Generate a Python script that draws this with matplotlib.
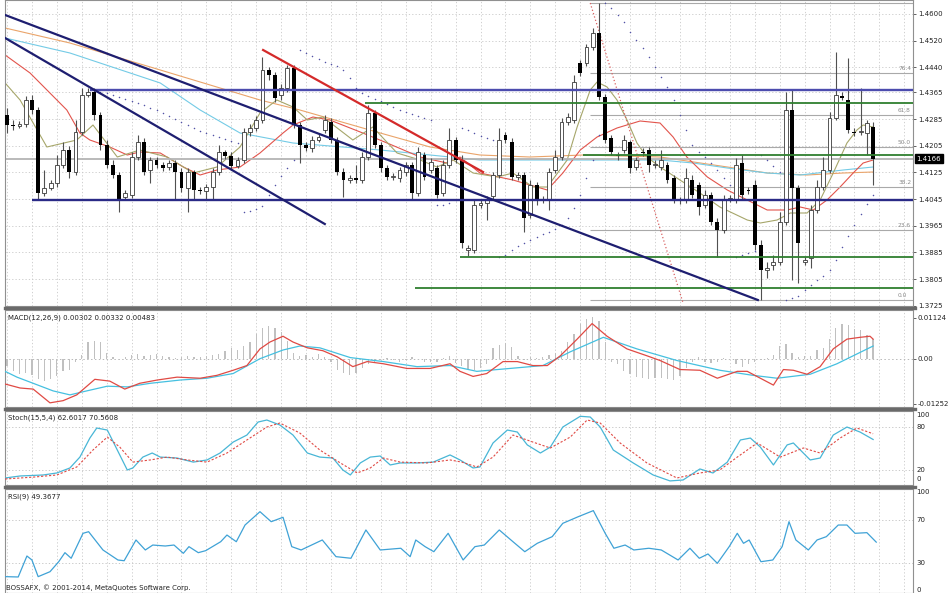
import numpy as np
import matplotlib
matplotlib.use("Agg")
import matplotlib.pyplot as plt
from matplotlib.transforms import blended_transform_factory

W, H = 948, 593

# ---- daily bars ----
opens = [1.4297, 1.4267, 1.4264, 1.4270, 1.4342, 1.4312, 1.4063, 1.4078, 1.4093, 1.4147,
         1.4192, 1.4126, 1.4246, 1.4357, 1.4366, 1.4297, 1.4207, 1.4147, 1.4117, 1.4051,
         1.4057, 1.4171, 1.4216, 1.4132, 1.4162, 1.4147, 1.4141, 1.4153, 1.4126, 1.4078,
         1.4126, 1.4072, 1.4069, 1.4081, 1.4126, 1.4186, 1.4174, 1.4144, 1.4162, 1.4246,
         1.4258, 1.4282, 1.4432, 1.4417, 1.4357, 1.4378, 1.4438, 1.4267, 1.4207, 1.4198,
         1.4222, 1.4252, 1.4276, 1.4222, 1.4126, 1.4102, 1.4108, 1.4102, 1.4171, 1.4303,
         1.4207, 1.4138, 1.4111, 1.4108, 1.4126, 1.4147, 1.4063, 1.4177, 1.4132, 1.4138,
         1.4063, 1.4147, 1.4222, 1.4162, 1.3892, 1.3892, 1.4027, 1.4033, 1.4054, 1.4117,
         1.4237, 1.4216, 1.4111, 1.4117, 1.3997, 1.4087, 1.4042, 1.4045, 1.4132, 1.4171,
         1.4276, 1.4282, 1.4453, 1.4453, 1.4501, 1.4543, 1.4351, 1.4228, 1.4177, 1.4192,
         1.4216, 1.4141, 1.4186, 1.4192, 1.4147, 1.4141, 1.4147, 1.4108, 1.4042, 1.4042,
         1.4102, 1.4087, 1.4027, 1.4057, 1.3976, 1.3952, 1.4042, 1.4042, 1.4153, 1.4072,
         1.4087, 1.3907, 1.3832, 1.3847, 1.3856, 1.3976, 1.4312, 1.4078, 1.3856, 1.3868,
         1.4012, 1.4081, 1.4132, 1.4288, 1.4354, 1.4342, 1.4246, 1.4246, 1.4243, 1.4261]
closes = [1.4267, 1.4264, 1.4270, 1.4342, 1.4312, 1.4063, 1.4078, 1.4093, 1.4147, 1.4192,
          1.4126, 1.4246, 1.4357, 1.4366, 1.4297, 1.4207, 1.4147, 1.4117, 1.4042, 1.4063,
          1.4171, 1.4216, 1.4126, 1.4162, 1.4147, 1.4138, 1.4153, 1.4126, 1.4078, 1.4126,
          1.4072, 1.4069, 1.4081, 1.4126, 1.4186, 1.4174, 1.4144, 1.4162, 1.4246, 1.4258,
          1.4282, 1.4432, 1.4417, 1.4348, 1.4378, 1.4438, 1.4267, 1.4207, 1.4198, 1.4222,
          1.4231, 1.4282, 1.4222, 1.4126, 1.4102, 1.4108, 1.4102, 1.4171, 1.4303, 1.4207,
          1.4138, 1.4111, 1.4114, 1.4132, 1.4147, 1.4063, 1.4186, 1.4111, 1.4156, 1.4057,
          1.4147, 1.4222, 1.4162, 1.3913, 1.3898, 1.4027, 1.4033, 1.4045, 1.4117, 1.4222,
          1.4222, 1.4111, 1.4117, 1.3988, 1.4087, 1.4042, 1.4045, 1.4126, 1.4171, 1.4276,
          1.4291, 1.4396, 1.4423, 1.4501, 1.4543, 1.4351, 1.4222, 1.4186, 1.4174, 1.4222,
          1.4138, 1.4162, 1.4183, 1.4147, 1.4150, 1.4162, 1.4102, 1.4042, 1.4039, 1.4108,
          1.4057, 1.4021, 1.4057, 1.3976, 1.3952, 1.4042, 1.4048, 1.4147, 1.4057, 1.4069,
          1.3907, 1.3832, 1.3838, 1.3856, 1.3976, 1.4312, 1.4078, 1.3913, 1.3862, 1.4012,
          1.4081, 1.4132, 1.4288, 1.4357, 1.4348, 1.4252, 1.4243, 1.4249, 1.4273, 1.4166]
highs = [1.4318, 1.4282, 1.4279, 1.4354, 1.4357, 1.4321, 1.4132, 1.4102, 1.4177, 1.4216,
         1.4204, 1.4282, 1.4378, 1.4378, 1.4378, 1.4306, 1.4222, 1.4162, 1.4126, 1.4072,
         1.4186, 1.4237, 1.4228, 1.4171, 1.4171, 1.4156, 1.4162, 1.4162, 1.4138, 1.4138,
         1.4132, 1.4081, 1.4090, 1.4138, 1.4207, 1.4192, 1.4186, 1.4171, 1.4258, 1.4270,
         1.4294, 1.4471, 1.4441, 1.4426, 1.4390, 1.4447, 1.4447, 1.4276, 1.4216, 1.4234,
         1.4243, 1.4297, 1.4288, 1.4231, 1.4138, 1.4117, 1.4147, 1.4186, 1.4327, 1.4312,
         1.4216, 1.4147, 1.4123, 1.4141, 1.4156, 1.4156, 1.4201, 1.4186, 1.4168, 1.4147,
         1.4162, 1.4258, 1.4231, 1.4177, 1.3907, 1.4042, 1.4042, 1.4054, 1.4126, 1.4258,
         1.4246, 1.4228, 1.4126, 1.4126, 1.4102, 1.4096, 1.4054, 1.4138, 1.4192, 1.4288,
         1.4303, 1.4417, 1.4462, 1.4510, 1.4558, 1.4633, 1.4360, 1.4237, 1.4186, 1.4237,
         1.4222, 1.4171, 1.4198, 1.4201, 1.4162, 1.4192, 1.4156, 1.4117, 1.4051, 1.4138,
         1.4117, 1.4096, 1.4072, 1.4066, 1.3988, 1.4057, 1.4057, 1.4168, 1.4177, 1.4081,
         1.4102, 1.3922, 1.3856, 1.3877, 1.4006, 1.4366, 1.4372, 1.4087, 1.3871, 1.4027,
         1.4102, 1.4171, 1.4306, 1.4486, 1.4366, 1.4468, 1.4258, 1.4378, 1.4282, 1.4276]
lows = [1.4243, 1.4252, 1.4258, 1.4261, 1.4300, 1.4042, 1.4054, 1.4072, 1.4081, 1.4138,
        1.4108, 1.4117, 1.4237, 1.4351, 1.4282, 1.4192, 1.4138, 1.4108, 1.4006, 1.4042,
        1.4048, 1.4162, 1.4117, 1.4093, 1.4138, 1.4129, 1.4132, 1.4042, 1.4066, 1.4006,
        1.4042, 1.4060, 1.4042, 1.4042, 1.4117, 1.4165, 1.4132, 1.4138, 1.4153, 1.4234,
        1.4249, 1.4273, 1.4402, 1.4336, 1.4342, 1.4366, 1.4258, 1.4153, 1.4189, 1.4186,
        1.4216, 1.4243, 1.4213, 1.4117, 1.4051, 1.4093, 1.4093, 1.4093, 1.4162, 1.4198,
        1.4126, 1.4102, 1.4102, 1.4096, 1.4114, 1.4042, 1.4054, 1.4102, 1.4123, 1.4048,
        1.4054, 1.4138, 1.4153, 1.3898, 1.3874, 1.3883, 1.4018, 1.3982, 1.4042, 1.4108,
        1.4213, 1.4102, 1.4102, 1.3946, 1.3988, 1.4027, 1.4033, 1.4012, 1.4123, 1.4162,
        1.4267, 1.4273, 1.4414, 1.4444, 1.4492, 1.4342, 1.4213, 1.4177, 1.4162, 1.4183,
        1.4123, 1.4132, 1.4174, 1.4126, 1.4138, 1.4132, 1.4093, 1.4033, 1.4030, 1.4033,
        1.4048, 1.3997, 1.4018, 1.3967, 1.3871, 1.3943, 1.4036, 1.4033, 1.4042, 1.4060,
        1.3892, 1.3742, 1.3808, 1.3832, 1.3847, 1.3967, 1.3802, 1.3793, 1.3847, 1.3838,
        1.4003, 1.4072, 1.4123, 1.4282, 1.4342, 1.4243, 1.4234, 1.4237, 1.4177, 1.4087]

# parabolic SAR, one dot per bar (none drawn for the first 14 bars)
sar = [np.nan] * 14 + [
    1.4372, 1.4366, 1.4363, 1.4357, 1.4351, 1.4345, 1.4339, 1.4333, 1.4327, 1.4318, 1.4312, 1.4303,
    1.4294, 1.4285, 1.4276, 1.4267, 1.4258, 1.4249, 1.4243, 1.4237, 1.4231, 1.4225, 1.4219, 1.4213,
    1.4006, 1.4009, 1.4015, 1.4024, 1.4057, 1.4087, 1.4114, 1.4138, 1.4162,
    1.4492, 1.4483, 1.4474, 1.4465, 1.4456, 1.4450, 1.4444, 1.4432, 1.4408, 1.4378, 1.4363,
    1.4354, 1.4345, 1.4339, 1.4330, 1.4321, 1.4312, 1.4306, 1.4300, 1.4294, 1.4288, 1.4282,
    1.4027, 1.4027, 1.4033, 1.4042,
    1.4258, 1.4252, 1.4243, 1.4234, 1.4228, 1.4222,
    1.3871, 1.3877, 1.3892, 1.3904, 1.3913, 1.3922, 1.3931, 1.3940, 1.3946, 1.3955, 1.3967,
    1.3988, 1.4018, 1.4057, 1.4108, 1.4162, 1.4237,
    1.4633, 1.4618, 1.4597, 1.4576, 1.4546, 1.4522, 1.4498, 1.4471, 1.4441, 1.4411, 1.4381,
    1.4342, 1.4297, 1.4252, 1.4207, 1.4186, 1.4171, 1.4153, 1.4132, 1.4108, 1.4087,
    1.3871, 1.3877, 1.3883, 1.3889,
    1.4177, 1.4162, 1.4144, 1.4126,
    1.3742, 1.3748, 1.3754, 1.3772, 1.3787, 1.3802, 1.3814, 1.3832, 1.3862, 1.3901, 1.3934,
    1.3967, 1.4000, 1.4030, 1.4057]

# moving averages, sampled along the curves (bar index, price)
ma_orange_x = [-0.3, 10.1, 23.0, 40.6, 47.0, 59.9, 67.9, 75.9, 83.9, 92.5, 104.8, 115.6, 122.0, 128.4, 134.2, 139.0]
ma_orange = [1.4558, 1.4513, 1.4441, 1.4342, 1.4312, 1.4243, 1.4201, 1.4177, 1.4171, 1.4177,
             1.4171, 1.4141, 1.4123, 1.4117, 1.4123, 1.4126]
ma_cyan_x = [-0.3, 10.1, 24.6, 31.0, 37.4, 45.9, 59.9, 67.9, 75.9, 92.0, 104.8, 110.1, 115.6, 122.0, 127.3, 134.2, 139.0]
ma_cyan = [1.4528, 1.4483, 1.4393, 1.4312, 1.4243, 1.4213, 1.4192, 1.4177, 1.4162, 1.4162,
           1.4162, 1.4153, 1.4138, 1.4123, 1.4117, 1.4132, 1.4141]
ma_red_x = [-0.3, 3.7, 9.6, 11.7, 13.3, 16.5, 19.3, 21.3, 24.6, 28.3, 31.0, 33.7, 37.4, 40.6, 44.3,
            45.9, 49.1, 51.8, 57.1, 61.0, 66.3, 70.6, 72.7, 75.9, 81.2, 86.7, 89.2, 92.0, 94.7,
            97.9, 101.6, 104.8, 106.9, 109.1, 112.4, 115.6, 118.8, 122.0, 125.2, 127.3, 129.4,
            131.6, 133.7, 135.8, 137.4, 139.0]
ma_red = [1.4477, 1.4423, 1.4312, 1.4243, 1.4222, 1.4201, 1.4177, 1.4186, 1.4183, 1.4141, 1.4117,
          1.4132, 1.4141, 1.4183, 1.4243, 1.4267, 1.4291, 1.4282, 1.4243, 1.4213, 1.4171, 1.4153,
          1.4171, 1.4123, 1.4102, 1.4072, 1.4123, 1.4192, 1.4231, 1.4258, 1.4279, 1.4273, 1.4231,
          1.4171, 1.4111, 1.4072, 1.4042, 1.4012, 1.4012, 1.4021, 1.4012, 1.4042, 1.4081, 1.4123,
          1.4153, 1.4162]
ma_olive_x = [-0.3, 2.1, 6.4, 11.2, 13.8, 17.7, 21.3, 25.7, 29.9, 33.7, 37.4, 40.6, 43.3, 45.9,
              48.2, 50.7, 55.5, 58.7, 62.6, 66.3, 69.0, 71.6, 74.8, 78.7, 81.2, 84.4, 86.7, 89.9,
              91.5, 93.6, 94.7, 96.3, 97.9, 99.5, 101.1, 102.7, 104.8, 108.0, 111.2, 114.4, 118.8,
              120.9, 123.6, 125.7, 128.4, 130.5, 132.6, 134.8, 136.4, 137.4, 139.0]
ma_olive = [1.4393, 1.4342, 1.4201, 1.4222, 1.4267, 1.4171, 1.4192, 1.4171, 1.4123, 1.4141, 1.4201,
            1.4303, 1.4342, 1.4321, 1.4282, 1.4291, 1.4222, 1.4261, 1.4183, 1.4162, 1.4141, 1.4162,
            1.4123, 1.4111, 1.4123, 1.4081, 1.4081, 1.4162, 1.4261, 1.4372, 1.4396, 1.4381, 1.4342,
            1.4282, 1.4213, 1.4171, 1.4141, 1.4102, 1.4063, 1.4021, 1.3982, 1.3973, 1.3982, 1.4003,
            1.4003, 1.4042, 1.4123, 1.4213, 1.4252, 1.4267, 1.4261]

# drawn objects: horizontal levels (price, first bar), trendlines, fibo retracement
blue_levels = [(1.4372, 13.3), (1.4042, 4.0)]
green_levels = [(1.4333, 57.5), (1.4177, 92.5), (1.3871, 72.7), (1.3778, 65.5)]
navy_trends = [((-0.3, 1.4597), (120.5, 1.3742)), ((-0.3, 1.4528), (51.0, 1.3970))]
red_trend = ((41.1, 1.4492), (76.4, 1.4126))
fibo_line = ((93.6, 1.4633), (108.5, 1.3733))
fibo_start = 93.6
fibo_prices = [1.4633, 1.4423, 1.4297, 1.4201, 1.4081, 1.3952, 1.3742]
fibo_labels = ['', '76.4', '61.8', '50.0', '38.2', '23.6', '0.0']
last_price = 1.4166
price_ticks = [1.4600, 1.4520, 1.4440, 1.4365, 1.4285, 1.4205, 1.4125, 1.4045, 1.3965, 1.3885, 1.3805, 1.3725]

# MACD (12,26,9)
macd_hist = [-0.002, -0.0035, -0.0043, -0.004, -0.0045, -0.0057, -0.0062, -0.0055, -0.0048, -0.0035,
             -0.003, -0.001, 0.001, 0.0045, 0.005, 0.0045, 0.0015, 0.0005, -0.0005, 0.0005,
             0.001, 0.0012, 0.0008, 0.001, 0.0012, 0.0008, 0.0005, 0.0003, 0.0005, 0.0008,
             0.0006, 0.0005, 0.0008, 0.001, 0.0012, 0.002, 0.003, 0.0025, 0.0035, 0.0045,
             0.0068, 0.0086, 0.009, 0.0086, 0.0075, 0.005, 0.0016, 0.0008, 0.001, 0.0005,
             0.0012, 0.0005, -0.001, -0.003, -0.004, -0.0045, -0.004, -0.0025, -0.0015, -0.0008,
             -0.0005, 0.0003, -0.0005, -0.0008, -0.0005, 0.0005, -0.0003, -0.0008, -0.001, -0.0008,
             0.0003, 0.0008, -0.0012, -0.002, -0.0028, -0.003, -0.0025, -0.0015, 0.003, 0.0038,
             0.0042, 0.0032, 0.0008, -0.0005, 0.0005, 0.0003, 0.0005, 0.001, 0.0015, 0.002,
             0.0045, 0.0068, 0.0095, 0.011, 0.0116, 0.0105, 0.0045, -0.0008, -0.0015, -0.0035,
             -0.0042, -0.005, -0.0054, -0.0057, -0.0054, -0.0054, -0.0057, -0.006, -0.0049, -0.0025,
             -0.0008, 0.0005, -0.0008, -0.0012, -0.0008, 0.0003, -0.0005, -0.0015, -0.0022, -0.0015,
             -0.0008, -0.0005, 0.0003, 0.001, 0.0035, 0.004, 0.0015, 0.0005, 0.0008, 0.0008,
             0.0025, 0.003, 0.0055, 0.0086, 0.0095, 0.0092, 0.0082, 0.0078, 0.0065, 0.0055]
macd_main_x = [-0.3, 2.1, 4.2, 6.9, 9.0, 11.2, 14.1, 16.5, 18.9, 21.3, 24.1, 27.3, 31.0, 33.7, 36.3,
               38.5, 40.6, 42.2, 44.3, 45.9, 48.2, 50.7, 53.0, 55.5, 57.8, 60.4, 64.2, 67.9, 71.1,
               72.7, 74.8, 77.0, 79.6, 81.9, 84.4, 86.7, 88.8, 91.5, 93.9, 96.3, 99.5, 102.7, 104.8,
               108.0, 111.2, 114.0, 117.2, 118.8, 120.9, 123.0, 124.6, 126.2, 128.4, 130.5, 132.6,
               134.8, 136.9, 138.5, 139.0]
macd_main = [-0.0070, -0.0081, -0.0084, -0.0122, -0.0116, -0.0100, -0.0057, -0.0062, -0.0084, -0.0068,
             -0.0059, -0.0051, -0.0054, -0.0046, -0.0032, -0.0019, 0.0027, 0.0046, 0.0062, 0.0046,
             0.0030, 0.0022, 0.0005, -0.0022, -0.0008, -0.0014, -0.0027, -0.0027, -0.0014, -0.0035,
             -0.0049, -0.0041, -0.0008, -0.0008, -0.0019, -0.0019, 0.0008, 0.0054, 0.0097, 0.0062,
             0.0027, 0.0008, -0.0005, -0.0030, -0.0032, -0.0054, -0.0035, -0.0035, -0.0054, -0.0073,
             -0.0030, -0.0032, -0.0043, -0.0022, 0.0027, 0.0054, 0.0059, 0.0062, 0.0054]
macd_signal_x = [-0.3, 1.6, 4.2, 7.4, 10.1, 12.8, 16.1, 19.3, 23.0, 27.8, 32.1, 36.3, 40.6, 44.3, 47.0,
                 50.2, 55.1, 60.4, 65.8, 71.1, 75.4, 80.7, 86.0, 90.4, 95.7, 101.1, 107.5, 114.4,
                 119.7, 123.6, 128.9, 133.2, 139.0]
macd_signal = [-0.0035, -0.0051, -0.0068, -0.0089, -0.0100, -0.0089, -0.0076, -0.0078, -0.0068, -0.0059,
               -0.0054, -0.0041, 0.0000, 0.0024, 0.0035, 0.0030, 0.0003, -0.0008, -0.0022, -0.0019,
               -0.0035, -0.0027, -0.0019, 0.0019, 0.0059, 0.0027, -0.0005, -0.0032, -0.0046, -0.0054,
               -0.0043, -0.0014, 0.0035]

# Stochastic (15,5,4)
stoch_k_x = [-0.3, 2.1, 5.8, 8.0, 10.1, 11.7, 13.3, 14.4, 16.1, 17.7, 19.3, 20.2, 21.8, 23.3, 24.6,
             27.3, 29.9, 32.1, 34.2, 36.3, 38.5, 40.3, 41.7, 43.8, 45.9, 48.2, 50.2, 52.3, 53.9,
             55.1, 56.7, 58.3, 59.9, 61.5, 63.1, 65.8, 68.4, 71.1, 72.7, 74.8, 75.9, 78.0, 80.3,
             81.9, 83.5, 85.6, 87.2, 89.2, 92.0, 93.6, 95.2, 97.3, 100.5, 103.7, 106.4, 108.5,
             111.2, 113.3, 115.6, 117.7, 119.3, 120.9, 123.0, 125.2, 126.2, 128.9, 130.5, 132.6,
             134.8, 136.9, 139.0]
stoch_k = [8.8, 11.6, 13, 15.8, 22.8, 38, 64.6, 78.6, 75.8, 47.9, 20, 22.8, 38, 43.7, 38, 36.7, 31,
           34, 43.7, 59, 68.8, 87, 89.8, 82.8, 68.8, 43.7, 38, 36.7, 20, 13, 29.8, 38, 39.5, 27,
           29.8, 29.8, 31, 41, 34, 22.8, 24.2, 57.7, 75.8, 73, 55, 43.7, 52, 80, 95, 94, 80, 47.9,
           29.8, 13, 4.7, 6, 21.4, 15.8, 31, 61.9, 64.6, 52, 27, 55, 57.7, 34, 36.7, 68.8, 80, 73,
           62.6]
stoch_d_x = [-0.3, 4.2, 8.0, 11.2, 13.8, 16.1, 18.1, 20.2, 23.0, 25.7, 28.9, 32.1, 35.3, 38.5, 41.7,
             43.8, 47.0, 50.2, 53.5, 56.2, 58.3, 60.4, 63.1, 67.4, 71.1, 73.0, 75.4, 78.0, 81.2,
             84.4, 87.2, 90.4, 93.1, 95.2, 98.4, 102.7, 107.5, 111.2, 114.4, 117.2, 120.4, 124.1,
             127.8, 130.5, 133.7, 136.4, 139.0]
stoch_d = [7.4, 10, 13, 24.2, 47.9, 66, 52, 31, 34, 38, 34, 31, 43.7, 61.9, 80, 85.6, 71.6, 47.9,
           29.8, 15.8, 22.8, 36.7, 31, 29.8, 34, 31, 24.2, 38, 68.8, 59, 50.7, 66, 89.8, 85.6, 57.7,
           29.8, 8.8, 15.8, 20, 38, 57.7, 38, 50.7, 43.7, 64.6, 78.6, 70.6]

# RSI (9)
rsi_x = [-0.2, 1.8, 3.2, 4.0, 5.0, 6.9, 8.3, 9.3, 10.3, 12.2, 13.1, 15.4, 17.8, 18.8, 20.7, 22.2,
         23.4, 25.4, 26.8, 28.3, 29.2, 30.7, 31.9, 34.3, 35.3, 36.8, 38.2, 40.6, 42.4, 44.3, 45.7,
         47.2, 50.6, 52.8, 55.2, 57.6, 59.9, 63.2, 64.7, 65.6, 67.1, 68.5, 70.8, 73.2, 75.1, 76.6,
         79.0, 81.2, 83.1, 85.1, 87.5, 89.2, 91.7, 94.1, 96.0, 97.4, 99.2, 100.6, 103.0, 105.0,
         107.7, 109.6, 111.1, 112.5, 114.0, 115.9, 117.2, 118.2, 119.1, 121.0, 122.9, 124.4, 125.5,
         126.6, 128.6, 130.0, 131.5, 133.4, 134.8, 136.1, 138.0, 139.5]
rsi = [17.3, 17, 36.5, 32.8, 17.3, 21.9, 31.2, 39.6, 34.4, 57.6, 59.1, 42.1, 32.8, 32.1, 51.4, 42.1,
       46.7, 45.8, 46.7, 39, 45.2, 39.6, 41.5, 49.8, 56, 49.8, 65.3, 77.7, 68.4, 72.5, 45.2, 42.1,
       51.4, 35.9, 34.4, 60.7, 42.1, 43.7, 35.9, 51.4, 45.2, 40.5, 57.6, 32.8, 45.2, 46.7, 60.7, 49.8,
       40.5, 48.3, 54.5, 66.9, 73.1, 78.7, 57.6, 43.7, 46.7, 42.1, 43.7, 42.1, 32.8, 43.7, 34.4, 38.4,
       29.7, 45.2, 57.6, 48.3, 51.4, 31.2, 32.8, 45.2, 68.4, 51.4, 42.1, 51.4, 54.5, 65.3, 65.3, 57.6,
       58.2, 49.4]

opens, closes, highs, lows = map(np.array, (opens, closes, highs, lows))
bars = np.arange(len(closes))
XMAX = 145.4

fig = plt.figure(figsize=(W / 100, H / 100), dpi=100)
fig.patch.set_facecolor('white')


def panel(top, bottom):
    a = fig.add_axes([5 / W, 1 - bottom / H, 908 / W, (bottom - top) / H])
    a.set_xlim(-0.32, XMAX)
    a.set_xticks(np.arange(0, 145, 4))
    a.tick_params(axis='x', length=0, labelbottom=False)
    a.yaxis.tick_right()
    a.tick_params(axis='y', labelsize=5, length=2, pad=1.5, colors='#222222', width=0.5)
    a.grid(axis='x', color='#c8c8c8', linestyle=(0, (1.5, 2.5)), linewidth=0.6)
    for s in a.spines.values():
        s.set_color('#909090')
        s.set_linewidth(0.8)
    return a


def side_label(a, y, txt):
    tr = blended_transform_factory(a.transAxes, a.transData)
    a.text(1.004, y, txt, transform=tr, fontsize=5, va='center', ha='left', color='#222222')


# ---------------- main price panel ----------------
ax = panel(0, 306)
ax.set_ylim(1.3724, 1.4642)
ax.set_yticks(price_ticks)
ax.set_yticklabels(['%.4f' % p for p in price_ticks])
ax.grid(axis='y', color='#c8c8c8', linestyle=(0, (1.5, 2.5)), linewidth=0.6)

for ma_x, ma_y, col in [(ma_orange_x, ma_orange, '#eaa46a'), (ma_cyan_x, ma_cyan, '#74cbe6'),
                        (ma_red_x, ma_red, '#e2544c'), (ma_olive_x, ma_olive, '#a6a66a')]:
    ax.plot(ma_x, ma_y, color=col, lw=0.8, zorder=2)

ax.hlines(last_price, -0.32, XMAX, color='#b4b4b4', lw=1.3, zorder=2)
for p in fibo_prices:
    ax.hlines(p, fibo_start, XMAX, color='#a9a9a9', lw=0.8, zorder=2)
for p, lab in zip(fibo_prices, fibo_labels):
    if lab:
        ax.text(143.0, p + 0.0006, lab, fontsize=4.2, color='#8a8a8a', va='bottom', ha='left')
(fx0, fy0), (fx1, fy1) = fibo_line
ax.plot([fx0, fx1], [fy0, fy1], color='#d86060', lw=0.9, linestyle=(0, (1, 1.8)), zorder=2)

# candles
up = closes >= opens
lo = np.minimum(opens, closes)
hgt = np.maximum(np.abs(closes - opens), 0.00012)
ax.vlines(bars, lows, highs, color='#505050', lw=0.8, zorder=3)
ax.bar(bars[up], hgt[up], 0.62, bottom=lo[up], facecolor='white', edgecolor='#3a3a3a', lw=0.6, zorder=4)
ax.bar(bars[~up], hgt[~up], 0.62, bottom=lo[~up], color='black', zorder=4)

ax.plot(bars, sar, linestyle='none', marker='o', ms=1.1, mew=0, color='#5252a6', zorder=5)

for p, x0 in green_levels:
    ax.hlines(p, x0, XMAX, color='#2f7f2f', lw=1.3, zorder=5)
ax.hlines(blue_levels[0][0], blue_levels[0][1], XMAX, color='#4c4cae', lw=1.7, zorder=5)
ax.hlines(blue_levels[1][0], blue_levels[1][1], XMAX, color='#2a2a86', lw=1.7, zorder=5)
for (x0, y0), (x1, y1) in navy_trends:
    ax.plot([x0, x1], [y0, y1], color='#1e1e70', lw=1.6, zorder=5)
ax.plot([red_trend[0][0], red_trend[1][0]], [red_trend[0][1], red_trend[1][1]],
        color='#d42a2a', lw=1.6, zorder=5)

tr = blended_transform_factory(ax.transAxes, ax.transData)
ax.text(1.004, last_price, '%.4f' % last_price, transform=tr, fontsize=5, color='white',
        va='center', ha='left', bbox=dict(boxstyle='square,pad=0.2', fc='black', ec='black'), zorder=6)

# ---------------- MACD ----------------
am = panel(310, 407)
am.set_ylim(-0.01335, 0.01345)
am.set_yticks([0.01124, 0.0, -0.01252])
am.set_yticklabels(['0.01124', '0.00', '-0.01252'])
am.axhline(0, color='#b8b8b8', lw=0.7, linestyle=(0, (1.5, 2.5)))
am.bar(bars, macd_hist, width=0.2, color='#c0c0c0', zorder=2)
am.plot(macd_signal_x, macd_signal, color='#45c0e0', lw=0.9, zorder=3)
am.plot(macd_main_x, macd_main, color='#e04a44', lw=0.9, zorder=4)

# ---------------- Stochastic ----------------
ast = panel(411, 485)
ast.set_ylim(-1, 102.4)
ast.set_yticks([])
for lvl in (80, 20):
    ast.axhline(lvl, color='#c0c0c0', lw=0.6, linestyle=(0, (1.5, 2.5)))
ast.plot(stoch_k_x, stoch_k, color='#48b6d6', lw=0.9, zorder=3)
ast.plot(stoch_d_x, stoch_d, color='#e04a44', lw=0.8, linestyle=(0, (2, 1.6)), zorder=4)
for y, t in [(96.7, '100'), (80, '80'), (20, '20'), (7.4, '0')]:
    side_label(ast, y, t)

# ---------------- RSI ----------------
ar = panel(489, 593)
ar.set_ylim(2.1, 98.8)
ar.set_yticks([])
for lvl in (70, 30):
    ar.axhline(lvl, color='#c0c0c0', lw=0.6, linestyle=(0, (1.5, 2.5)))
ar.plot(rsi_x, rsi, color='#3fa2d6', lw=0.9, zorder=3)
for y, t in [(96.0, '100'), (70, '70'), (30, '30'), (4.9, '0')]:
    side_label(ar, y, t)

# panel separators
for yy in (308, 409, 487):
    fig.add_artist(plt.Line2D([5 / W, 915 / W], [1 - yy / H] * 2, color='#6a6a6a', lw=2.4))

fig.text(8 / W, 1 - 318 / H, 'MACD(12,26,9) 0.00302 0.00332 0.00483', fontsize=5, va='center', color='#222222')
fig.text(8 / W, 1 - 418 / H, 'Stoch(15,5,4) 62.6017 70.5608', fontsize=5, va='center', color='#222222')
fig.text(8 / W, 1 - 497 / H, 'RSI(9) 49.3677', fontsize=5, va='center', color='#222222')
fig.text(6 / W, 1 - 588 / H, 'BOSSAFX, \u00a9 2001-2014, MetaQuotes Software Corp.', fontsize=5,
         va='center', color='#222222')

fig.savefig('out.png', dpi=100, facecolor='white')
